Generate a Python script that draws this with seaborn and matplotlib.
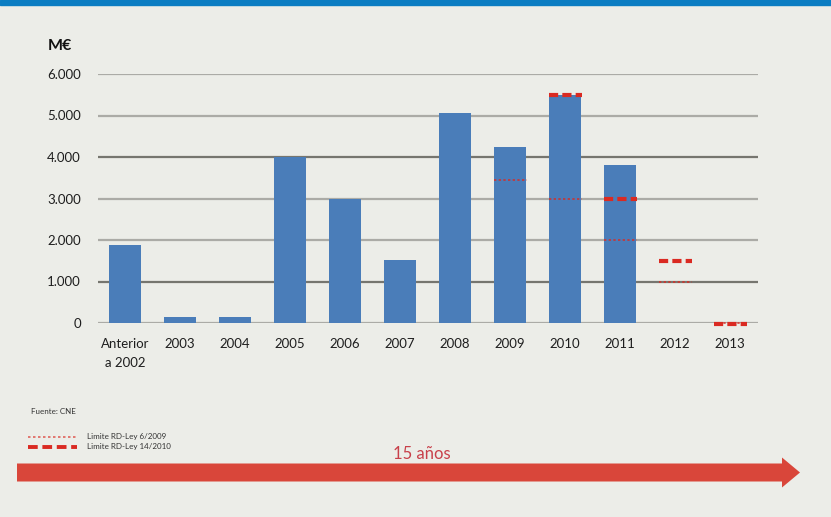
import numpy as np
import pandas as pd
import matplotlib.pyplot as plt
import seaborn as sns
from matplotlib.patches import FancyArrow, Rectangle

# values (M€)
categories = ['Anterior\na 2002', '2003', '2004', '2005', '2006', '2007',
              '2008', '2009', '2010', '2011', '2012', '2013']
values = [1870, 150, 150, 4000, 2990, 1530, 5070, 4250, 5490, 3800, np.nan, np.nan]

# limits per year
limit_years = ['2009', '2010', '2011', '2012', '2013']
limit_6_2009 = [3450, 3000, 2000, 1000, 0]
limit_14_2010 = [np.nan, 5500, 3000, 1500, -30]

y_ticks = [0, 1000, 2000, 3000, 4000, 5000, 6000]
y_labels = ['0', '1.000', '2.000', '3.000', '4.000', '5.000', '6.000']

bg = '#ECEDE8'
bar_blue = '#4A7DB9'
red = '#DA2A22'

sns.set_theme(style='white')
plt.rcParams['font.family'] = ['Lato', 'DejaVu Sans']

fig = plt.figure(figsize=(8.31, 5.17), dpi=100, facecolor=bg)
ax = fig.add_axes([97.5 / 831, 1 - 323 / 517, 660 / 831, 249 / 517])
ax.set_facecolor('none')

df = pd.DataFrame({'cat': categories, 'val': values})
sns.barplot(data=df.dropna(), x='cat', y='val', order=categories, color=bar_blue,
            width=0.58, saturation=1, linewidth=0, ax=ax, zorder=2)

ax.set_ylim(0, 6000)
ax.set_xlim(-0.5, len(categories) - 0.5)
ax.set_yticks(y_ticks)
ax.set_yticklabels(y_labels)
ax.set_xlabel('')
ax.set_ylabel('')
ax.tick_params(axis='both', length=0, labelsize=9.5, colors='#1E1E1E')
ax.tick_params(axis='y', pad=12)
ax.tick_params(axis='x', pad=11)
for lbl in ax.get_xticklabels():
    lbl.set_linespacing(1.7)
    lbl.set_verticalalignment('top')
for s in ax.spines.values():
    s.set_visible(False)

ax.yaxis.grid(True, color='#ABABA6', linewidth=1.6, zorder=0)
ax.set_axisbelow(True)
for i, gl in enumerate(ax.get_ygridlines()):
    if y_ticks[i] in (1000, 4000):
        gl.set_color('#76766F')

# limit segments
half = 0.3
for yr, v6, v14 in zip(limit_years, limit_6_2009, limit_14_2010):
    xi = categories.index(yr)
    if not np.isnan(v6):
        ax.hlines(v6, xi - half, xi + half, colors=red, linestyles=(0, (1.2, 1.2)),
                  linewidth=1.4, alpha=0.75, zorder=3, clip_on=False)
    if not np.isnan(v14):
        ax.hlines(v14, xi - half, xi + half, colors=red, linestyles=(0, (2.2, 1.0)),
                  linewidth=3, zorder=4, clip_on=False)

# overlay in pixel coordinates for the surrounding decoration
ov = fig.add_axes([0, 0, 1, 1], zorder=-1)
ov.set_xlim(0, 831)
ov.set_ylim(517, 0)
ov.axis('off')
ov.add_patch(Rectangle((0, 0), 831, 5, color='#0B7DC2'))

ov.text(48, 46, 'M€', fontsize=11.5, fontweight='bold', color='#111111', va='center', ha='left')

ov.text(31, 412, 'Fuente: CNE', fontsize=5.8, color='#333333', va='center')
ov.plot([28, 77], [437, 437], color=red, lw=1.2, ls=(0, (1.5, 1.5)), alpha=0.7)
ov.plot([28, 77], [447, 447], color=red, lw=2.8, ls=(0, (2.5, 1.2)))
ov.text(87, 437, 'Limite RD-Ley 6/2009', fontsize=5.8, color='#333333', va='center')
ov.text(87, 447, 'Limite RD-Ley 14/2010', fontsize=5.8, color='#333333', va='center')

ov.text(422, 454, '15 años', fontsize=12, color='#C8404A', ha='center', va='center')
ov.add_patch(FancyArrow(17, 472.5, 783, 0, width=18, head_width=30, head_length=18,
                        length_includes_head=True, color='#D9463A', lw=0))

fig.savefig('out.png', dpi=100, facecolor=bg)
